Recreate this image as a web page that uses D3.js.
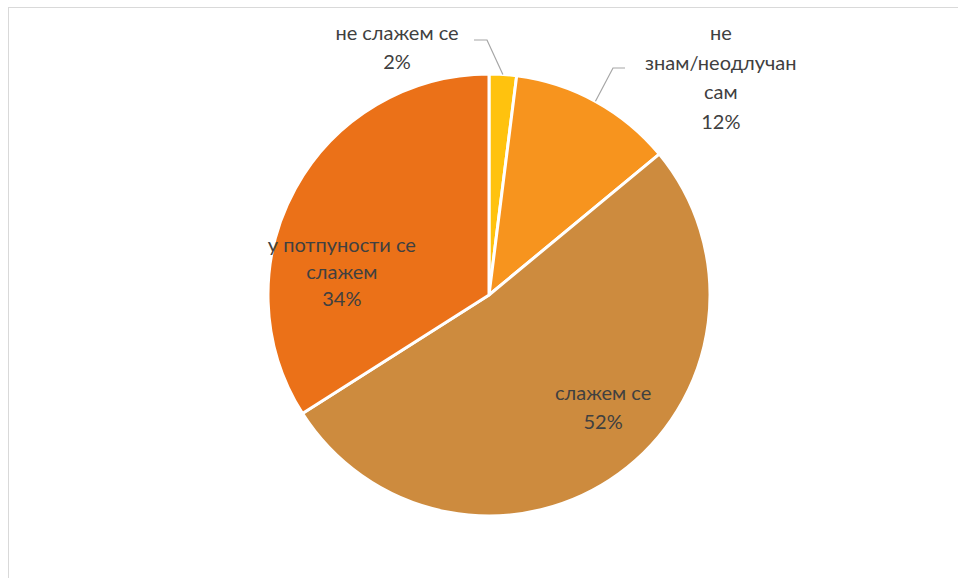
<!DOCTYPE html>
<html lang="sr">
<head>
  <meta charset="UTF-8">
  <title>Pie</title>
  <style>
    html, body { margin: 0; padding: 0; background: #fff; }
    svg { display: block; }
  </style>
</head>
<body>
  <script src="https://d3js.org/d3.v7.min.js"></script>
  <script>
    const width = 958;
    const height = 578;

    // data, clockwise from 12 o'clock
    const categories = ['не слажем се', 'не знам/неодлучан сам', 'слажем се', 'у потпуности се слажем'];
    const values = [2, 12, 52, 34];
    const colors = ['#ffc20e', '#f7941e', '#cd8b3e', '#eb7118'];
    // how each label is wrapped
    const labelLines = [
      ['не слажем се', '2%'],
      ['не', 'знам/неодлучан', 'сам', '12%'],
      ['слажем се', '52%'],
      ['у потпуности се', 'слажем', '34%']
    ];

    const cx = 489, cy = 295, radius = 221;

    const svg = d3.select('body')
      .append('svg')
      .attr('width', width)
      .attr('height', height);

    // chart area frame (only top/left visible in the crop)
    svg.append('rect')
      .attr('x', 8.5)
      .attr('y', 7.5)
      .attr('width', width + 20)
      .attr('height', height + 20)
      .attr('fill', 'none')
      .attr('stroke', '#d9d9d9')
      .attr('stroke-width', 1);

    const pie = d3.pie().sort(null).value(d => d)(values);
    const arc = d3.arc().innerRadius(0).outerRadius(radius);

    const g = svg.append('g').attr('transform', `translate(${cx},${cy})`);

    g.selectAll('path')
      .data(pie)
      .enter()
      .append('path')
      .attr('d', arc)
      .attr('fill', (d, i) => colors[i])
      .attr('stroke', '#fff')
      .attr('stroke-width', 3)
      .attr('stroke-linejoin', 'round');

    // label placement: polar (deg clockwise from top, radius) of the text block centre
    const labelPolar = [
      { a: -20.4, r: 264 },
      { a: 46.8, r: 318 },
      { a: 134.5, r: 160 },
      { a: 278.9, r: 149 }
    ];
    const lineH = [29, 29.5, 29, 27];

    const polar = (a, r) => [r * Math.sin(a * Math.PI / 180), -r * Math.cos(a * Math.PI / 180)];

    g.selectAll('g.lbl')
      .data(pie)
      .enter()
      .append('g')
      .attr('class', 'lbl')
      .each(function (d, i) {
        const [x, y] = polar(labelPolar[i].a, labelPolar[i].r);
        const lines = labelLines[i];
        const top = y - (lines.length - 1) * lineH[i] / 2;
        const t = d3.select(this).append('text')
          .attr('text-anchor', 'middle')
          .attr('font-family', 'Lato, "Open Sans", sans-serif')
          .attr('font-size', 20)
          .attr('fill', '#404040');
        lines.forEach((s, k) => {
          t.append('tspan')
            .attr('x', x)
            .attr('y', top + k * lineH[i])
            .attr('dy', '0.35em')
            .text(s);
        });
      });

    // leader lines for the two small outside slices
    const midPoint = d => {
      const a = (d.startAngle + d.endAngle) / 2;
      return [radius * Math.sin(a), -radius * Math.cos(a)];
    };
    const leaders = [
      { i: 0, from: [474 - cx, 40 - cy], elbow: [487 - cx, 40 - cy] },
      { i: 1, from: [625 - cx, 68 - cy], elbow: [613 - cx, 68 - cy] }
    ];
    leaders.forEach(l => {
      const end = midPoint(pie[l.i]);
      g.append('path')
        .attr('d', d3.line()([l.from, l.elbow, end]))
        .attr('fill', 'none')
        .attr('stroke', '#a6a6a6')
        .attr('stroke-width', 1.2);
    });
  </script>
</body>
</html>
